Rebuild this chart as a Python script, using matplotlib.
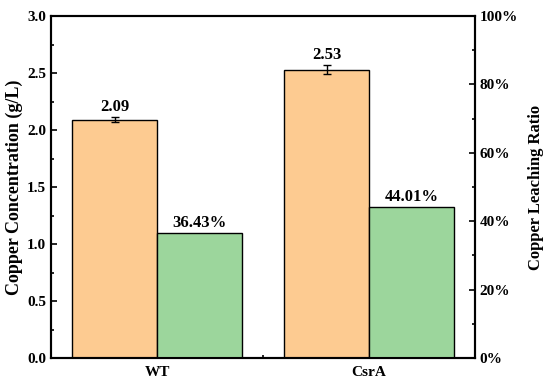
import matplotlib
matplotlib.use("Agg")
import matplotlib.pyplot as plt
from matplotlib.ticker import MultipleLocator, PercentFormatter

categories = ["WT", "CsrA"]
conc = [2.09, 2.53]
conc_err = [0.02, 0.04]
ratio = [36.43, 44.01]

plt.rcParams['font.family'] = ['Liberation Serif', 'DejaVu Serif']
plt.rcParams['font.weight'] = 'bold'

fig = plt.figure(figsize=(5.5, 3.84), dpi=100)
ax = fig.add_axes([51/550, 1-358/384, 424/550, 342/384])
ax2 = ax.twinx()

orange = '#FDCB91'
green = '#9CD69C'
w = 0.4
xs = [0.5, 1.5]
ax.bar([x - w/2 for x in xs], conc, width=w, color=orange, edgecolor='black', linewidth=1.0,
       yerr=conc_err, error_kw=dict(ecolor='black', elinewidth=1.0, capsize=3, capthick=1.0))
ax2.bar([x + w/2 for x in xs], ratio, width=w, color=green, edgecolor='black', linewidth=1.0)

for x, v, e in zip(xs, conc, conc_err):
    ax.text(x - w/2, v + e + 0.02, f"{v:.2f}", ha='center', va='bottom', fontsize=12, fontweight='bold')
for x, v in zip(xs, ratio):
    ax2.text(x + w/2, v + 0.8, f"{v:.2f}%", ha='center', va='bottom', fontsize=12, fontweight='bold')

ax.set_xlim(0, 2)
ax.set_ylim(0, 3)
ax2.set_ylim(0, 100)
ax.set_xticks(xs)
ax.set_xticklabels(categories)
ax.xaxis.set_minor_locator(MultipleLocator(1))
ax.yaxis.set_major_locator(MultipleLocator(0.5))
ax.yaxis.set_minor_locator(MultipleLocator(0.25))
ax2.yaxis.set_major_locator(MultipleLocator(20))
ax2.yaxis.set_minor_locator(MultipleLocator(10))
ax2.yaxis.set_major_formatter(PercentFormatter(decimals=0))

ax.tick_params(axis='y', which='major', direction='in', length=4, width=1.2, labelsize=11)
ax.tick_params(axis='y', which='minor', direction='in', length=2, width=1.2)
ax.tick_params(axis='x', which='major', length=0, labelsize=11, pad=6)
ax.tick_params(axis='x', which='minor', direction='in', length=2, width=1.2)
ax2.tick_params(axis='y', which='major', direction='in', length=4, width=1.2, labelsize=11)
ax2.tick_params(axis='y', which='minor', direction='in', length=2, width=1.2)

for a in (ax, ax2):
    for s in a.spines.values():
        s.set_linewidth(1.5)

ax.set_ylabel("Copper Concentration (g/L)", fontsize=13, fontweight='bold', labelpad=3)
ax2.set_ylabel("Copper Leaching Ratio", fontsize=12, fontweight='bold', labelpad=7)
for lab in ax.get_xticklabels() + ax.get_yticklabels() + ax2.get_yticklabels():
    lab.set_fontweight('bold')

fig.savefig("out.png", dpi=100)
